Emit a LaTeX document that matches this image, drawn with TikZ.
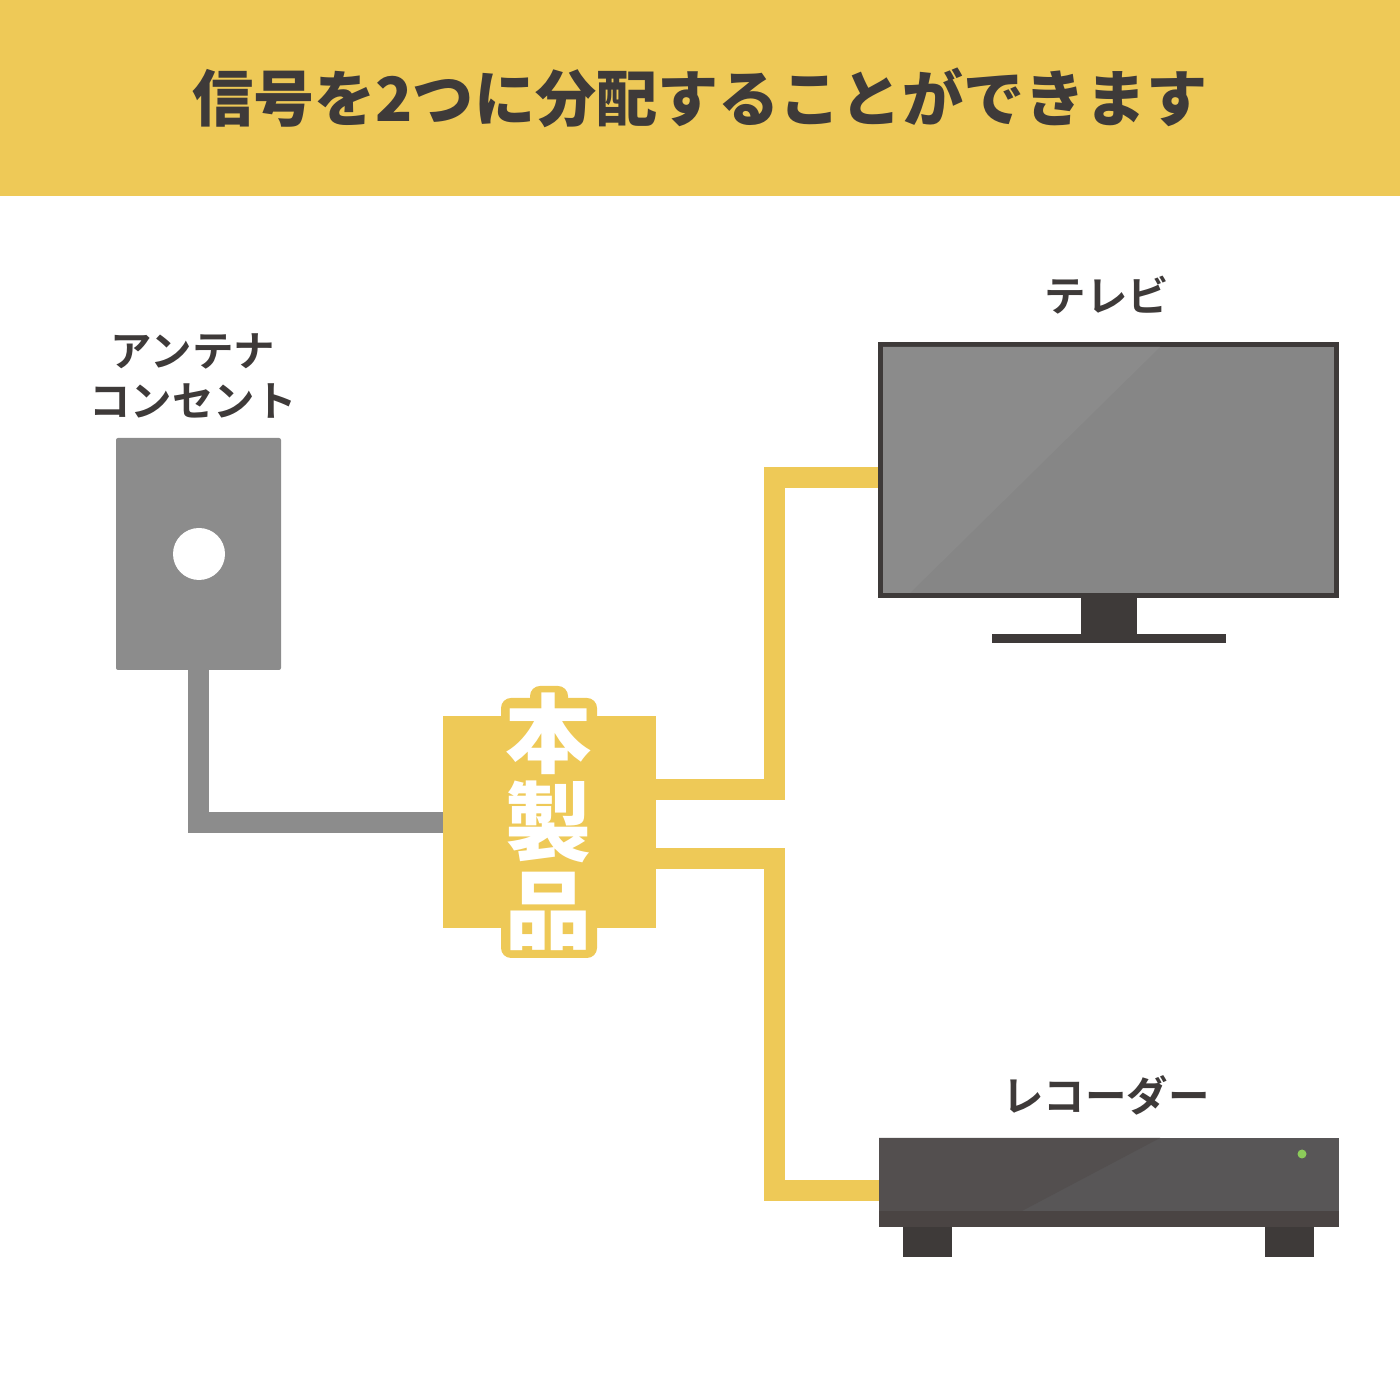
\documentclass[tikz,border=0pt]{standalone}
\usepackage{fontspec}
\setmainfont{Noto Sans CJK JP Bold}
\newfontfamily\blackjp{Noto Sans CJK JP Black}
\usetikzlibrary{positioning,calc}
\definecolor{bandyellow}{HTML}{EEC957}
\definecolor{inkdark}{HTML}{3E3A39}
\definecolor{wiregray}{HTML}{8C8C8C}
\definecolor{screengray}{HTML}{868686}
\definecolor{glossgray}{HTML}{8B8B8B}
\definecolor{boxgray}{HTML}{585657}
\definecolor{boxshade}{HTML}{534F4F}
\definecolor{boxfront}{HTML}{4A4443}
\definecolor{ledgreen}{HTML}{8CCB5A}
\tikzset{
  devlabel/.style={text=inkdark, font=\fontsize{11.8pt}{14.2pt}\selectfont, align=center, inner sep=0},
  wire/.style={line width=0.21cm, bandyellow, line join=miter},
  block/.style={inner sep=0, outer sep=0, minimum width=#1},
}
\begin{document}
\begin{tikzpicture}
\useasboundingbox (0,0) rectangle (14,14);
\node[block=14cm, fill=bandyellow, minimum height=1.96cm, text=inkdark, font=\blackjp\fontsize{17.4pt}{20pt}\selectfont] (header) at (7,13.02) {信号を2つに分配することができます};

\node[block=1.65cm, fill=wiregray, minimum height=2.32cm, rounded corners=0.02cm] (outlet) at (1.985,8.46) {};
\node[fill=white, circle, minimum size=0.52cm, inner sep=0] (jack) at (1.99,8.46) {};
\node[devlabel] (outletlabel) at (1.93,10.24) {アンテナ\\コンセント};

\node[block=4.56cm, fill=screengray, draw=inkdark, line width=0.05cm, outer sep=0.025cm, minimum height=2.51cm] (tv) at (11.085,9.3) {};
\fill[glossgray] (8.83,10.53) -- (11.6,10.53) -- (9.1,8.07) -- (8.83,8.07) -- cycle;
\node[block=0.56cm, fill=inkdark, minimum height=0.37cm, below=-0.01cm of tv] (neck) {};
\node[block=2.34cm, fill=inkdark, minimum height=0.09cm, below=0cm of neck] (foot) {};
\node[devlabel] (tvlabel) at (11.07,11.05) {テレビ};

\node[block=4.6cm, fill=boxgray, minimum height=0.89cm] (recorder) at (11.09,2.175) {};
\fill[boxshade] (recorder.north west) -- (11.6,2.62) -- (10.2,1.88) -- (8.79,1.88) -- cycle;
\fill[boxfront] (recorder.south west) rectangle ($(recorder.east)+(0,-0.285)$);
\node[block=0.49cm, fill=inkdark, minimum height=0.3cm, below=0cm of recorder.south west, xshift=0.485cm] (footleft) {};
\node[block=0.49cm, fill=inkdark, minimum height=0.3cm, below=0cm of recorder.south east, xshift=-0.495cm] (footright) {};
\node[fill=ledgreen, circle, minimum size=0.09cm, inner sep=0] (led) at (13.02,2.46) {};
\node[devlabel] (recorderlabel) at (11.06,3.05) {レコーダー};

\node[block=2.13cm, fill=bandyellow, minimum height=2.12cm] (unit) at (5.495,5.775) {};
\fill[bandyellow, rounded corners=0.1cm] (5.01,4.42) rectangle (5.97,7.02);
\fill[bandyellow, rounded corners=0.1cm] (5.3,6.9) rectangle (5.68,7.14);
\node[text=white, font=\blackjp\fontsize{24.5pt}{25pt}\selectfont, align=center, inner sep=0] (unitlabel) at (5.49,5.78) {本\\製\\品};

\coordinate (upperout) at ($(unit.east)+(0,0.33)$);
\coordinate (lowerout) at ($(unit.east)+(0,-0.36)$);
\coordinate (upperturn) at (7.745,9.225);
\coordinate (lowerturn) at (7.745,2.095);
\draw[wire, wiregray] (outlet.south) |- (unit.west);
\draw[wire] (upperout) -| (upperturn) -- (upperturn -| tv.west);
\draw[wire] (lowerout) -| (lowerturn) -- (lowerturn -| recorder.west);
\end{tikzpicture}
\end{document}
